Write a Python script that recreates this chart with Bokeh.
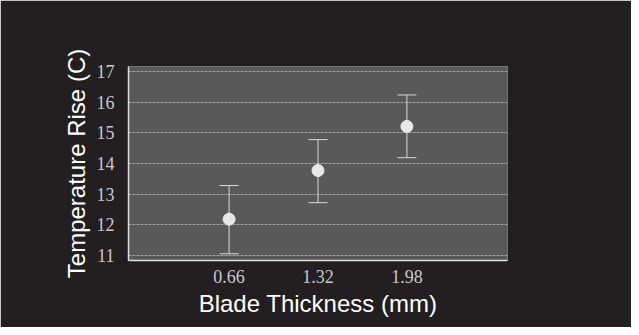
from bokeh.plotting import figure
from bokeh.models import ColumnDataSource, Whisker, TeeHead, FixedTicker, Range1d
from bokeh.embed import file_html
from bokeh.resources import INLINE

thickness = [0.66, 1.32, 1.98]
temp_mean = [12.18, 13.77, 15.21]
temp_upper = [13.28, 14.78, 16.24]
temp_lower = [11.05, 12.72, 14.19]
y_ticks = [11, 12, 13, 14, 15, 16, 17]

src = ColumnDataSource(dict(x=thickness, y=temp_mean, upper=temp_upper, lower=temp_lower))

p = figure(width=631, height=327, output_backend="svg", toolbar_location=None,
           x_range=Range1d(-0.087, 2.727), y_range=Range1d(10.83, 17.17),
           frame_width=379, frame_height=194,
           min_border_left=128, min_border_top=66, min_border_right=124, min_border_bottom=67)

p.background_fill_color = "#59595b"
p.border_fill_color = "#231f20"
p.outline_line_color = "#747476"

p.xgrid.visible = False
p.ygrid.grid_line_color = "#a0a0a0"
p.ygrid.grid_line_dash = "3 1"
p.ygrid.grid_line_width = 1

for ax in (p.xaxis[0], p.yaxis[0]):
    ax.axis_line_color = "#e0e0e0"
    ax.axis_line_width = 1.5
    ax.major_tick_line_color = None
    ax.minor_tick_line_color = None
    ax.major_label_text_font = "Liberation Serif"
    ax.major_label_text_font_size = "18px"
    ax.major_label_text_color = "#c8c8c8"
    ax.axis_label_text_font = "Liberation Sans"
    ax.axis_label_text_font_size = "24px"
    ax.axis_label_text_font_style = "normal"
    ax.axis_label_text_color = "#ffffff"

p.xaxis.ticker = FixedTicker(ticks=thickness)
p.yaxis.ticker = FixedTicker(ticks=y_ticks)
p.ygrid.ticker = FixedTicker(ticks=y_ticks)
p.xaxis.axis_label = "Blade Thickness (mm)"
p.yaxis.axis_label = "Temperature Rise (C)"
p.xaxis.major_label_standoff = 3
p.yaxis.major_label_standoff = 8
p.xaxis.axis_label_standoff = 4
p.yaxis.axis_label_standoff = 4

w = Whisker(source=src, base="x", upper="upper", lower="lower",
            line_color="#d8d8d8", line_width=1,
            upper_head=TeeHead(size=19, line_color="#d8d8d8", line_width=1),
            lower_head=TeeHead(size=19, line_color="#d8d8d8", line_width=1))
p.add_layout(w)
p.scatter("x", "y", source=src, size=12, fill_color="#e8e8e8", line_color="#e8e8e8")

open("out.html", "w").write(file_html(p, INLINE))
